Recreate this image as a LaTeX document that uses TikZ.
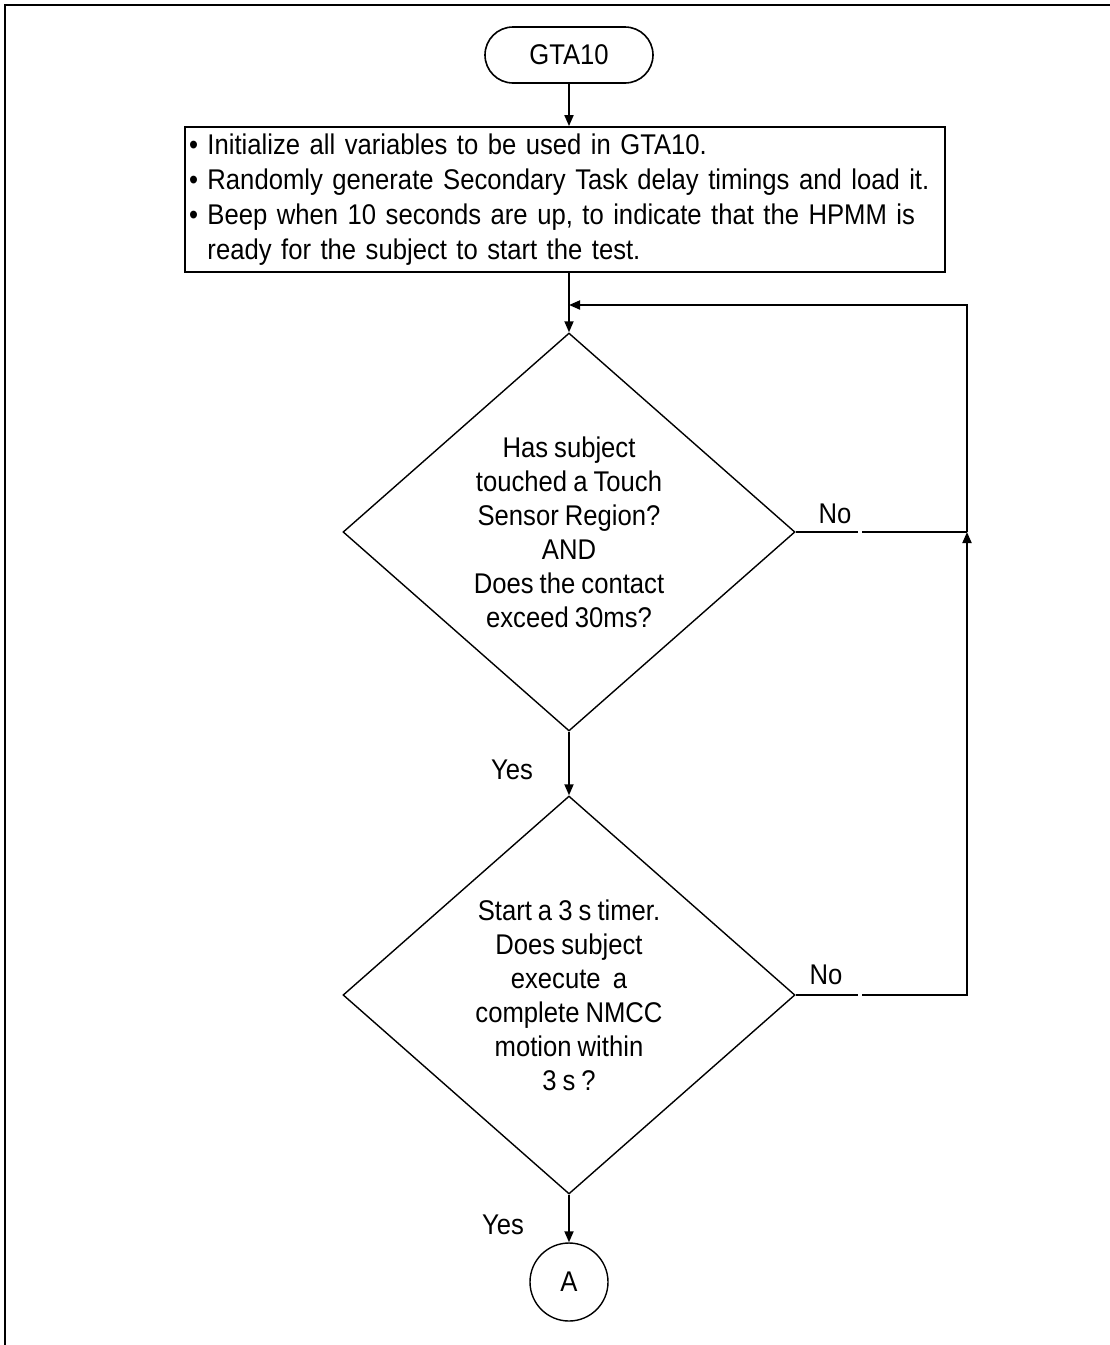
\documentclass[tikz,border=0pt]{standalone}
\usepackage{fontspec}
\setmainfont[FakeStretch=0.9,WordSpace=0.85]{Liberation Sans}
\usetikzlibrary{shapes.geometric,arrows.meta}
\begin{document}
\begin{tikzpicture}[x=1pt,y=-1pt,
  txt/.style={font=\fontsize{28.5}{34}\selectfont},
  term/.style={draw,line width=1.6pt,rounded corners=28pt,minimum width=168pt,minimum height=56pt,inner sep=0pt,txt},
  procbox/.style={draw,line width=1.8pt,minimum width=760pt,minimum height=145pt,text width=752pt,inner xsep=4pt,align=left,font=\fontsize{28.5}{35}\selectfont},
  decision/.style={draw,diamond,line width=1.4pt,aspect=1.136,minimum width=452pt,minimum height=398pt,inner sep=0pt,align=center,txt},
  connector/.style={draw,circle,line width=1.4pt,minimum size=78pt,inner sep=0pt,txt},
  flow/.style={line width=1.8pt},
  arr/.style={flow,-{Triangle[length=11pt,width=9pt]}},
  lbl/.style={inner sep=0pt,txt}]
\useasboundingbox (0,0) rectangle (1110,1345);
% outer frame (left and top edges)
\draw[line width=2pt] (5,1345) -- (5,5) -- (1110,5);

\node[term] (start) at (569,55) {GTA10};
\node[procbox] (init) at (565,199.5) {%
• Initialize all variables to be used in GTA10.\\
• Randomly generate Secondary Task delay timings and load it.\\
• Beep when 10 seconds are up, to indicate that the HPMM is\\
\phantom{• }ready for the subject to start the test.};
\node[decision] (touch) at (569,532) {Has subject\\touched a Touch\\Sensor Region?\\AND\\Does the contact\\exceed 30ms?};
\node[decision] (motion) at (569,995) {Start a 3 s timer.\\Does subject\\execute\ \ a\\complete NMCC\\motion within\\3 s ?};
\node[connector] (A) at (569,1282) {A};

% loop-back route coordinates
\coordinate (merge) at (569,305);
\coordinate (turn) at (967,305);
\coordinate (join) at (967,532);
\coordinate (corner) at (967,995);
\coordinate (gapA) at (858,532);
\coordinate (gapB) at (862,532);
\coordinate (gapC) at (858,995);
\coordinate (gapD) at (862,995);

\draw[arr] (start.south) -- (start.south |- init.north);
\draw[flow] (merge |- init.south) -- (merge);
\draw[arr] (merge) -- (touch.north);
\draw[arr] (touch.south) -- (motion.north);
\draw[arr] (motion.south) -- (A.north);

% "No" branches back to the top of the loop
\draw[flow] (touch.east) -- (gapA);
\draw[flow] (gapB) -- (join);
\draw[arr] (join) -- (turn) -- (merge);
\draw[flow] (motion.east) -- (gapC);
\draw[arr] (gapD) -- (corner) -- (join);

\node[lbl] (no1) at (835,514) {No};
\node[lbl] (no2) at (826,975) {No};
\node[lbl] (yes1) at (512,770) {Yes};
\node[lbl] (yes2) at (503,1225) {Yes};
\end{tikzpicture}
\end{document}
